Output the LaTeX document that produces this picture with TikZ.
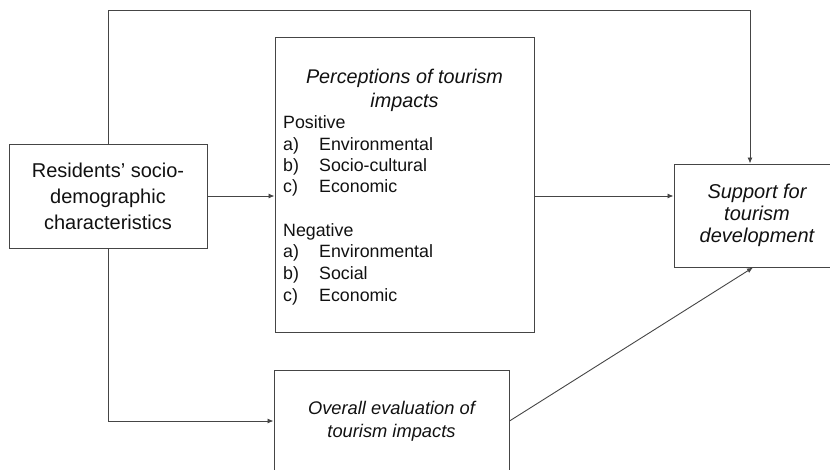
\documentclass[tikz,border=0pt]{standalone}
\usepackage{fontspec}
\setmainfont{Liberation Sans}
\usetikzlibrary{arrows.meta,calc}
\definecolor{linegray}{HTML}{454545}
\definecolor{inkblack}{HTML}{111111}
\begin{document}
\begin{tikzpicture}[x=1pt,y=-1pt,
  box/.style={draw=linegray, line width=1pt, rectangle, inner sep=0pt,
    anchor=center, text=inkblack, align=center},
  conn/.style={draw=linegray, line width=0.9pt},
  arr/.style={conn, -{Latex[length=6pt,width=5pt]}},
  listtext/.style={anchor=base west, inner sep=0pt, text=inkblack,
    font=\fontsize{17.8}{21}\selectfont},
  titletext/.style={anchor=base, inner sep=0pt, text=inkblack,
    font=\fontsize{19.8}{25}\selectfont\itshape}]

\useasboundingbox (0,0) rectangle (830,469);

% boxes
\node[box, minimum width=198pt, minimum height=104pt,
  font=\fontsize{20}{26}\selectfont] (res) at (108,196)
  {Residents’ socio-\\demographic\\characteristics};
\node[box, minimum width=259pt, minimum height=295pt] (perc) at (404.5,184.5) {};
\node[box, minimum width=166pt, minimum height=103pt,
  font=\fontsize{20}{22}\selectfont\itshape] (sup) at (757,215.5)
  {Support for\\tourism\\development};
\node[box, minimum width=235pt, minimum height=102pt,
  font=\fontsize{18.3}{23}\selectfont\itshape] (ovr) at (391.5,421)
  {Overall evaluation of\\tourism impacts};

% contents of the perceptions box
\node[titletext] (pt1) at (404.5,83) {Perceptions of tourism};
\node[titletext] (pt2) at (404.5,107) {impacts};
\node[listtext] (pos) at (283,128) {Positive};
\node[listtext] (pa) at (283,150) {a)};
\node[listtext] (pai) at (319,150) {Environmental};
\node[listtext] (pb) at (283,171) {b)};
\node[listtext] (pbi) at (319,171) {Socio-cultural};
\node[listtext] (pc) at (283,192) {c)};
\node[listtext] (pci) at (319,192) {Economic};
\node[listtext] (neg) at (283,236) {Negative};
\node[listtext] (na) at (283,257) {a)};
\node[listtext] (nai) at (319,257) {Environmental};
\node[listtext] (nb) at (283,279) {b)};
\node[listtext] (nbi) at (319,279) {Social};
\node[listtext] (nc) at (283,301) {c)};
\node[listtext] (nci) at (319,301) {Economic};

% connectors
\coordinate (topright) at (750,10);
\draw[arr] (res.north) |- (topright) -- (topright |- sup.north);
\draw[arr] (res.east) -- (res.east -| perc.west);
\draw[arr] (perc.east |- res.east) -- (sup.west |- res.east);
\draw[arr] (res.south) |- (ovr.west);
\draw[arr] (ovr.east) -- ($(sup.south)+(-4,0)$);

\end{tikzpicture}
\end{document}
